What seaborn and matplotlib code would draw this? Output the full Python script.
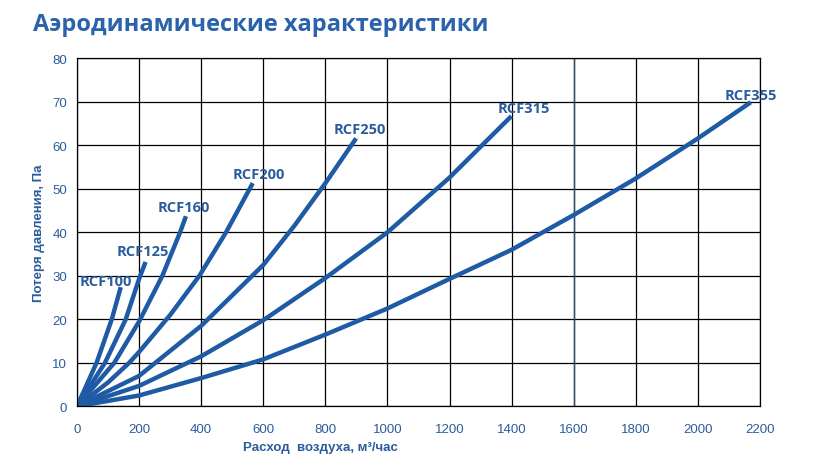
import pandas as pd
import matplotlib
matplotlib.use("Agg")
import matplotlib.pyplot as plt
import seaborn as sns

# Curve data (air flow m3/h -> pressure loss Pa)
models = ["RCF100", "RCF125", "RCF160", "RCF200", "RCF250", "RCF315", "RCF355"]
flow_100 = [0, 63, 112, 141]
loss_100 = [0, 10, 20, 27.4]
flow_125 = [0, 90, 157, 200, 221]
loss_125 = [0, 10, 20, 29.3, 33.2]
flow_160 = [0, 120, 200, 275, 332, 351]
loss_160 = [0, 10, 19.5, 30, 40, 43.7]
flow_200 = [0, 100, 168, 200, 300, 394, 480, 566]
loss_200 = [0, 5.5, 10, 12.5, 21, 30, 40, 51.3]
flow_250 = [0, 200, 400, 600, 700, 800, 899]
loss_250 = [0, 7, 18.5, 32.5, 41.5, 51.3, 61.6]
flow_315 = [0, 200, 400, 600, 800, 1000, 1200, 1399]
loss_315 = [0, 4.7, 11.5, 19.8, 29.5, 40, 52.6, 66.7]
flow_355 = [0, 200, 400, 600, 800, 1000, 1200, 1400, 1600, 1800, 2000, 2170]
loss_355 = [0, 2.5, 6.5, 10.8, 16.5, 22.5, 29.3, 36, 44, 52.4, 61.6, 69.9]

flows = [flow_100, flow_125, flow_160, flow_200, flow_250, flow_315, flow_355]
losses = [loss_100, loss_125, loss_160, loss_200, loss_250, loss_315, loss_355]

# label offsets (pixels) from the end of each curve
label_offsets = [(-15, -1), (-3, 4), (-2, 2), (6, 2), (4, 2), (12, 1), (0, 0)]

rows = []
for m, fx, ly in zip(models, flows, losses):
    for a, b in zip(fx, ly):
        rows.append({"model": m, "flow": a, "loss": b})
df = pd.DataFrame(rows)

sns.set_theme(style="white")
plt.rcParams["font.family"] = ["Liberation Sans", "DejaVu Sans"]

line_color = "#1F5BA5"
text_color = "#2B5C9C"

fig = plt.figure(figsize=(8.26, 4.77), dpi=100)
ax = fig.add_axes([0.0932, 0.146, 0.827, 0.7297])

sns.lineplot(data=df, x="flow", y="loss", hue="model", units="model",
             estimator=None, sort=False, palette=[line_color] * len(models),
             linewidth=3.2, legend=False, ax=ax, solid_capstyle="butt")

for m, fx, ly, off in zip(models, flows, losses, label_offsets):
    ax.annotate(m, (fx[-1], ly[-1]), xytext=off, textcoords="offset pixels",
                ha="center", va="bottom", fontsize=10.5, fontweight="bold",
                color=text_color, family=["Open Sans", "DejaVu Sans"])

ax.set_xlim(0, 2200)
ax.set_ylim(0, 80)
ax.set_xticks(range(0, 2201, 200))
ax.set_yticks(range(0, 81, 10))
ax.grid(True, color="black", linewidth=0.9)
ax.axvline(1600, color="#2E4F6E", linewidth=1.0, zorder=1)
for s in ax.spines.values():
    s.set_color("black")
    s.set_linewidth(0.9)
ax.tick_params(axis="both", direction="out", length=4, width=0.9, color="black",
               labelsize=9.5, labelcolor=text_color, pad=3)
ax.tick_params(axis="x", pad=8)

ax.set_ylabel("Потеря давления, Па", fontsize=9.5, fontweight="bold",
              color=text_color, labelpad=5)
ax.set_xlabel("Расход  воздуха, м³/час", fontsize=9.5, fontweight="bold",
              color=text_color)
ax.xaxis.set_label_coords(0.356, -0.10)

fig.text(0.04, 0.948, "Аэродинамические характеристики", fontsize=17,
         fontweight="bold", color="#2A62AC", ha="left", va="center",
         family=["Open Sans", "DejaVu Sans"])

fig.savefig("out.png", dpi=100)
